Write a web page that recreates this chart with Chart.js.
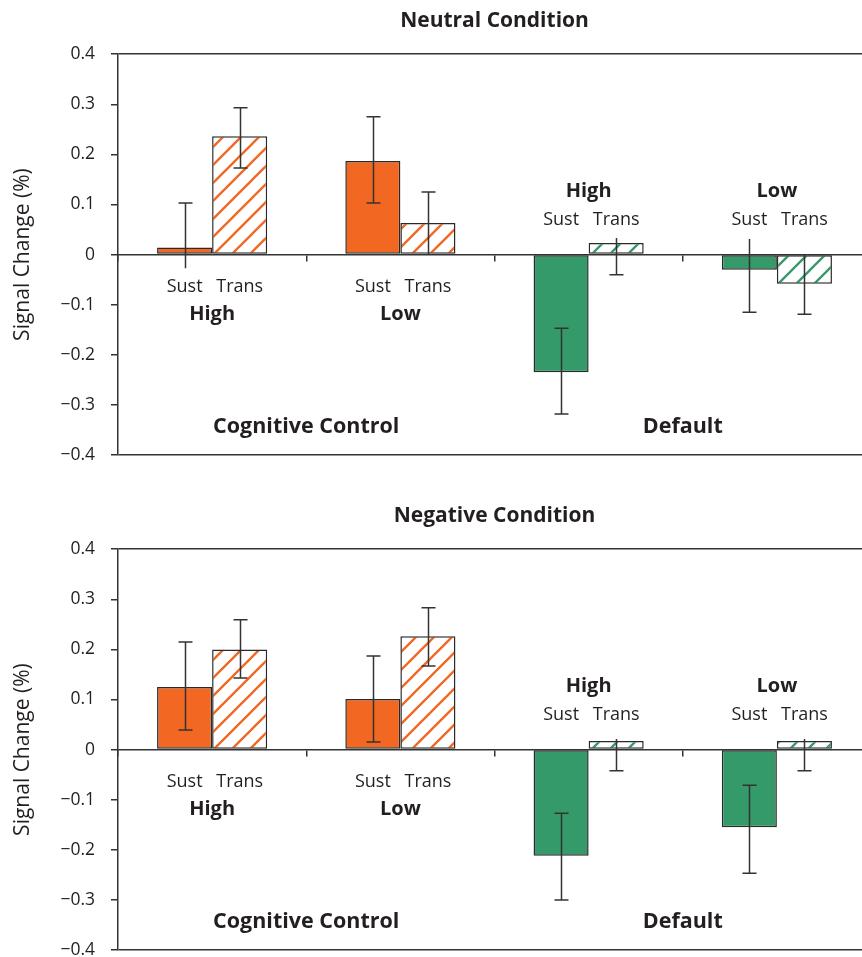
<!DOCTYPE html>
<html>
<head>
<meta charset="utf-8">
<script src="https://cdn.jsdelivr.net/npm/chart.js@4.4.1/dist/chart.umd.min.js"></script>
<style>
  html, body { margin: 0; padding: 0; background: #fff; overflow: hidden; }
  .panel { position: absolute; left: 0; width: 880px; height: 495px; }
</style>
</head>
<body>
<div class="panel" style="top:0"><canvas id="neutral" width="880" height="495"></canvas></div>
<div class="panel" style="top:495px"><canvas id="negative" width="880" height="495"></canvas></div>
<script>
// categories along x: two networks, each with High / Low load
const categories = ['High', 'Low', 'High', 'Low'];
const networks = ['Cognitive Control', 'Default'];
const series = ['Sust', 'Trans'];

// Neutral condition
const neutralSust = [0.014, 0.187, -0.235, -0.030];
const neutralSustErr = [[-0.027, 0.103], [0.103, 0.275], [-0.318, -0.147], [-0.115, 0.031]];
const neutralTrans = [0.236, 0.063, 0.023, -0.058];
const neutralTransErr = [[0.173, 0.293], [0.000, 0.125], [-0.040, 0.033], [-0.119, 0.000]];

// Negative condition
const negativeSust = [0.125, 0.101, -0.212, -0.155];
const negativeSustErr = [[0.039, 0.215], [0.015, 0.187], [-0.300, -0.127], [-0.247, -0.071]];
const negativeTrans = [0.200, 0.226, 0.017, 0.017];
const negativeTransErr = [[0.143, 0.259], [0.167, 0.283], [-0.042, 0.021], [-0.042, 0.021]];

// which ends of each error bar carry a cap
const neutralSustCaps = ['hi', 'both', 'both', 'lo'];
const neutralTransCaps = ['both', 'hi', 'lo', 'lo'];
const negativeSustCaps = ['both', 'both', 'both', 'both'];
const negativeTransCaps = ['both', 'both', 'lo', 'lo'];

const ORANGE = '#f26722';
const GREEN = '#349a69';
const INK = '#231f20';
const LINE = '#333333';
const FONT = '"Open Sans", sans-serif';

Chart.defaults.font.family = FONT;
Chart.defaults.color = INK;

function hatch(color) {
    const s = 18;
    const c = document.createElement('canvas');
    c.width = s; c.height = s;
    const g = c.getContext('2d');
    g.fillStyle = '#fff';
    g.fillRect(0, 0, s, s);
    g.strokeStyle = color;
    g.lineWidth = 2.3;
    g.beginPath();
    g.moveTo(0, s); g.lineTo(s, 0);
    g.moveTo(-2, 2); g.lineTo(2, -2);
    g.moveTo(s - 2, s + 2); g.lineTo(s + 2, s - 2);
    g.stroke();
    return g.createPattern(c, 'repeat');
}

const errorBars = {
    id: 'errorBars',
    afterDatasetsDraw(chart) {
        const ctx = chart.ctx, y = chart.scales.y;
        ctx.save();
        ctx.strokeStyle = LINE;
        ctx.lineWidth = 1.5;
        chart.data.datasets.forEach((ds, di) => {
            const meta = chart.getDatasetMeta(di);
            ds.err.forEach(([lo, hi], i) => {
                const x = Math.round(meta.data[i].x) + 0.5;
                const yl = y.getPixelForValue(lo), yh = y.getPixelForValue(hi);
                const cap = ds.caps[i];
                ctx.beginPath();
                ctx.moveTo(x, yl); ctx.lineTo(x, yh);
                if (cap !== 'hi') { ctx.moveTo(x - 7, yl); ctx.lineTo(x + 7, yl); }
                if (cap !== 'lo') { ctx.moveTo(x - 7, yh); ctx.lineTo(x + 7, yh); }
                ctx.stroke();
            });
        });
        ctx.restore();
    }
};

const textLabels = {
    id: 'textLabels',
    afterDraw(chart) {
        const ctx = chart.ctx, x = chart.scales.x, y = chart.scales.y;
        const m0 = chart.getDatasetMeta(0), m1 = chart.getDatasetMeta(1);
        ctx.save();
        ctx.fillStyle = INK;
        ctx.textAlign = 'center';
        ctx.textBaseline = 'middle';
        categories.forEach((cat, i) => {
            const cc = i < 2;
            const subY = y.getPixelForValue(cc ? -0.064 : 0.069);
            const catY = y.getPixelForValue(cc ? -0.119 : 0.127);
            ctx.font = '18px ' + FONT;
            ctx.fillText(series[0], m0.data[i].x, subY);
            ctx.fillText(series[1], m1.data[i].x, subY);
            ctx.font = 'bold 20px ' + FONT;
            ctx.fillText(cat, x.getPixelForValue(i), catY);
        });
        ctx.font = 'bold 21.5px ' + FONT;
        networks.forEach((n, k) => {
            ctx.fillText(n, x.getPixelForValue(2 * k + 0.5), y.getPixelForValue(-0.344));
        });
        ctx.restore();
    }
};

function makeChart(id, title, sust, sustErr, sustCaps, trans, transErr, transCaps) {
    const hatchOrange = hatch(ORANGE), hatchGreen = hatch(GREEN);
    return new Chart(document.getElementById(id), {
        type: 'bar',
        data: {
            labels: categories,
            datasets: [{
                label: series[0],
                data: sust,
                err: sustErr,
                caps: sustCaps,
                backgroundColor: [ORANGE, ORANGE, GREEN, GREEN],
                borderColor: '#2a2a2a',
                borderWidth: 1.5,
                borderSkipped: false
            }, {
                label: series[1],
                data: trans,
                err: transErr,
                caps: transCaps,
                backgroundColor: [hatchOrange, hatchOrange, hatchGreen, hatchGreen],
                borderColor: '#2a2a2a',
                borderWidth: 1.5,
                borderSkipped: false
            }]
        },
        options: {
            responsive: false,
            animation: false,
            categoryPercentage: 0.585,
            barPercentage: 1.0,
            layout: { padding: { left: 0, right: 9, top: 0, bottom: 40 } },
            scales: {
                x: {
                    position: { y: 0 },
                    ticks: { display: false },
                    grid: {
                        drawOnChartArea: false,
                        drawTicks: true,
                        tickLength: 6,
                        color: LINE,
                        lineWidth: 1.5
                    },
                    border: { display: true, color: LINE, width: 1.5 },
                    afterFit(scale) { scale.height = 0; }
                },
                y: {
                    min: -0.4,
                    max: 0.4,
                    ticks: {
                        stepSize: 0.1,
                        padding: 16,
                        color: INK,
                        font: { size: 17.5 },
                        callback(v) {
                            if (Math.abs(v) < 1e-9) return '0';
                            return (v < 0 ? '\u2212' : '') + Math.abs(v).toFixed(1);
                        }
                    },
                    grid: {
                        color(c) {
                            return Math.abs(Math.abs(c.tick.value) - 0.4) < 1e-6 ? LINE : 'rgba(0,0,0,0)';
                        },
                        tickColor: LINE,
                        tickLength: 7,
                        lineWidth: 1.5
                    },
                    border: { display: true, color: LINE, width: 1.5 },
                    title: {
                        display: true,
                        text: 'Signal Change (%)',
                        color: INK,
                        font: { size: 21 },
                        padding: { top: 10, bottom: 0 }
                    },
                    afterFit(scale) {
                        scale.width = 118;
                        scale.paddingTop = 0;
                        scale.paddingBottom = 0;
                    }
                }
            },
            plugins: {
                legend: { display: false },
                tooltip: { enabled: false },
                title: {
                    display: true,
                    text: title,
                    fullSize: false,
                    color: INK,
                    font: { size: 21, weight: 'bold' },
                    padding: { top: 8, bottom: 21 }
                }
            }
        },
        plugins: [errorBars, textLabels]
    });
}

makeChart('neutral', 'Neutral Condition',
    neutralSust, neutralSustErr, neutralSustCaps,
    neutralTrans, neutralTransErr, neutralTransCaps);

makeChart('negative', 'Negative Condition',
    negativeSust, negativeSustErr, negativeSustCaps,
    negativeTrans, negativeTransErr, negativeTransCaps);
</script>
</body>
</html>
